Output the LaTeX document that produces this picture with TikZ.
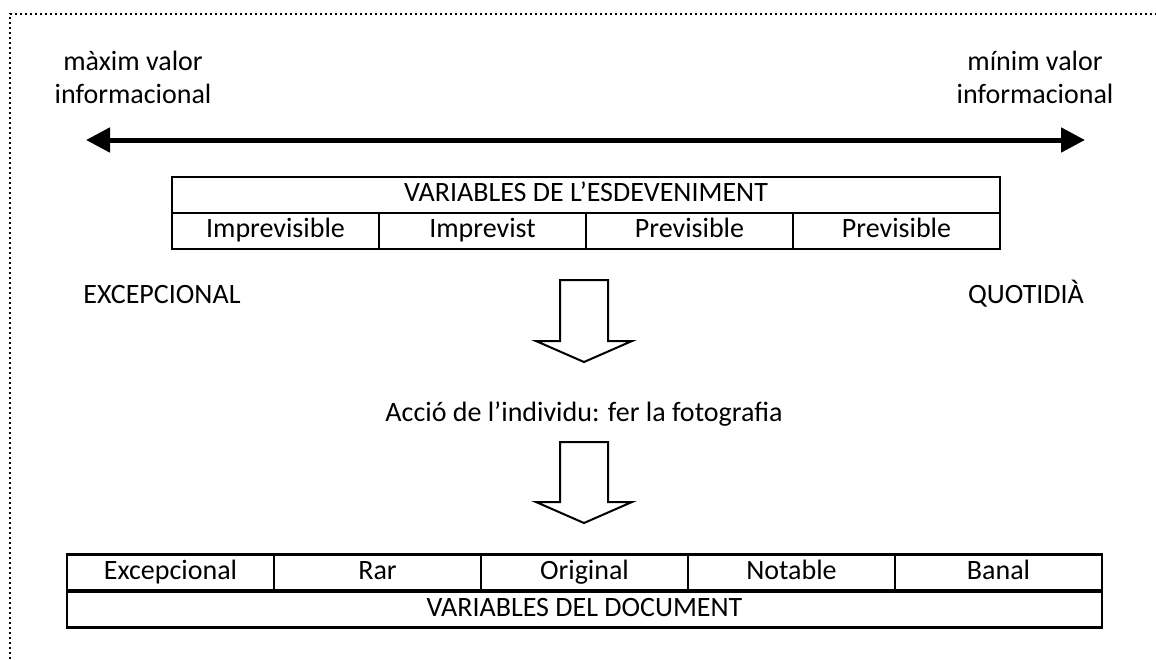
\documentclass[tikz,border=0pt]{standalone}
\usepackage{fontspec}
\setmainfont{Carlito}
\usetikzlibrary{arrows.meta}
\tikzset{>={Triangle[length=24pt, width=24pt]}}

\begin{document}
\begin{tikzpicture}[x = 1pt, y = -1pt,
    every node/.style = {font = \fontsize{28}{33}\selectfont, inner sep = 0pt},
    cell/.style = {draw, line width = 2.7pt, minimum width = 207pt, minimum height = 36pt,
        text height = 20pt, text depth = 7pt},
    blockarrow/.style = {draw, line width = 2pt, line join = miter}]
    \useasboundingbox (0,0) rectangle (1156,659);

    % dotted frame, only top and left edge visible
    \draw[line width = 2pt, dash pattern = on 2pt off 3pt] (10,659) -- (10,14) -- (1156,14);

    \node[align = center] (maxval) at (133,77) {màxim valor\\informacional};
    \node[align = center] (minval) at (1035,77) {mínim valor\\informacional};

    \coordinate (axisL) at (86,140);
    \coordinate (axisR) at (1085,140);
    \draw[<->, line width = 5pt] (axisL) -- (axisR);

    % event table
    \node[cell, minimum width = 828pt] (evhead) at (586,195) {VARIABLES DE L’ESDEVENIMENT};
    \foreach \lbl [count = \i] in {Imprevisible, Imprevist, Previsible, Previsible}
        \node[cell] (ev\i) at ({172 + 207*(\i - 0.5)}, 231) {\lbl};

    \node[anchor = base] (excep) at (162,303) {EXCEPCIONAL};
    \node[anchor = base] (quot) at (1026,303) {QUOTIDIÀ};

    \coordinate (blockA) at (560,280);
    \draw[blockarrow] (blockA) -- ++(48,0) -- ++(0,61) -- ++(24,0) -- ++(-48,21)
        -- ++(-48,-21) -- ++(24,0) -- cycle;

    \node[anchor = base] (accio) at (584,421) {Acció de l’individu: fer la fotografia};

    \coordinate (blockB) at (560,442);
    \draw[blockarrow] (blockB) -- ++(48,0) -- ++(0,60) -- ++(24,0) -- ++(-48,21)
        -- ++(-48,-21) -- ++(24,0) -- cycle;

    % document table
    \foreach \lbl [count = \i] in {Excepcional, Rar, Original, Notable, Banal}
        \node[cell] (doc\i) at ({67 + 207*(\i - 0.5)}, 572.5) {\lbl};
    \node[cell, minimum width = 1035pt] (dochead) at (584.5,609.5) {VARIABLES DEL DOCUMENT};
\end{tikzpicture}
\end{document}
